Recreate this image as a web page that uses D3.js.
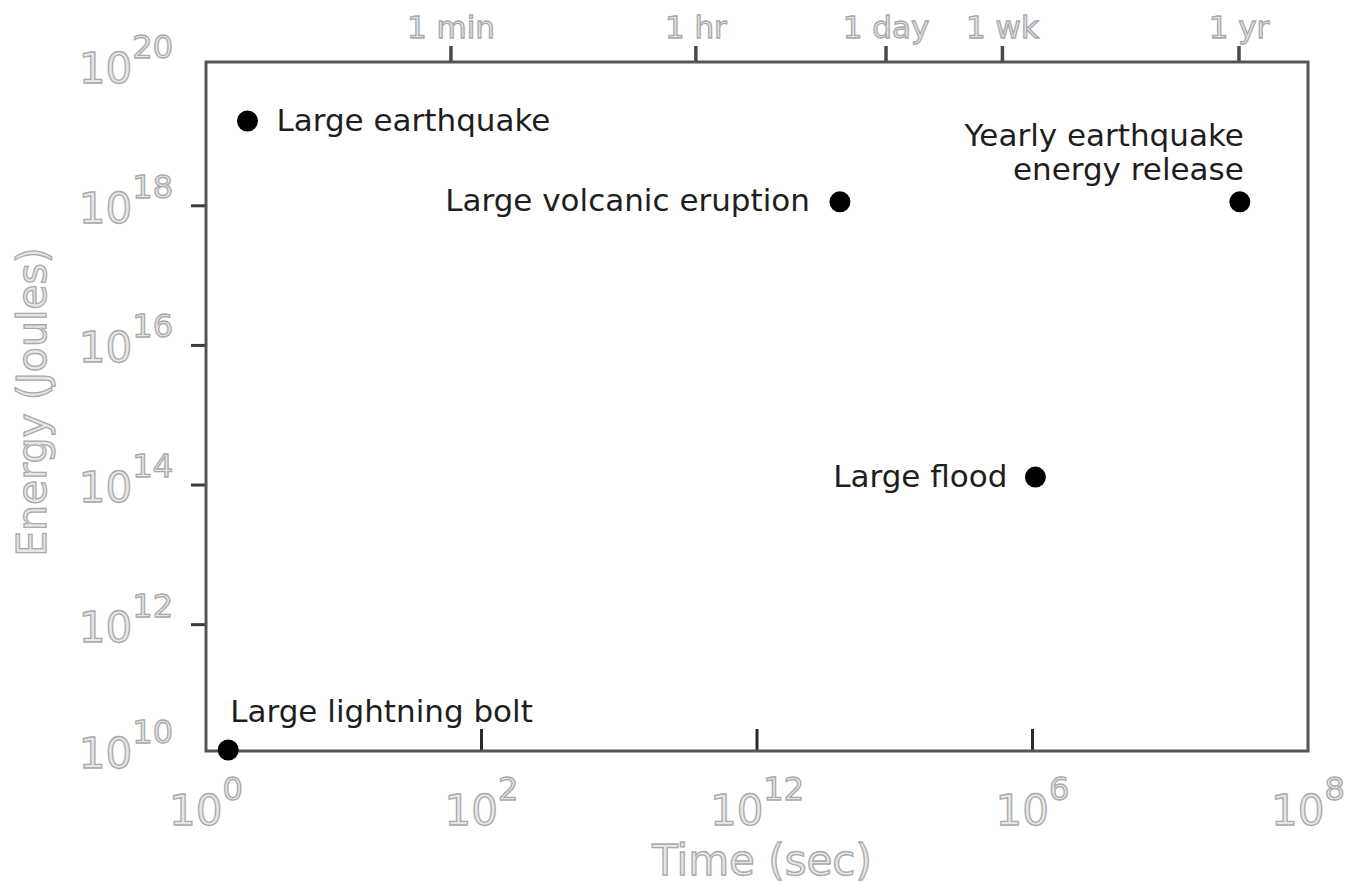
<!DOCTYPE html>
<html>
<head>
<meta charset="utf-8">
<script src="https://cdn.jsdelivr.net/npm/d3@7"></script>
<style>
  html, body { margin: 0; padding: 0; background: #fff; }
  svg { display: block; }
  .outline { fill: #e6e6e6; stroke: #a9a9a9; stroke-width: 1.3px; font-family: "DejaVu Sans", Verdana, sans-serif; }
  .note { fill: #1e1e1e; font-family: "DejaVu Sans", Verdana, sans-serif; font-size: 31px; }
</style>
</head>
<body>
<svg id="chart" width="1347" height="888"></svg>
<script>
// Natural events: how long they last and how much energy they release
const eventNames = ["Large earthquake", "Large volcanic eruption", "Yearly earthquake energy release", "Large flood", "Large lightning bolt"];
const durationsSec = [2, 4.0e4, 3.2e7, 1.05e6, 1.45];
const energiesJ = [1.64e19, 1.14e18, 1.14e18, 1.3e14, 1.6e10];

// Bottom axis (seconds) and left axis (joules) tick labels
const xTickValues = [1e0, 1e2, 1e4, 1e6, 1e8];
const xTickExponents = ["0", "2", "12", "6", "8"];
const yTickValues = [1e10, 1e12, 1e14, 1e16, 1e18, 1e20];
const yTickExponents = ["10", "12", "14", "16", "18", "20"];

// Reference durations marked along the top edge
const timeMarkLabels = ["1 min", "1 hr", "1 day", "1 wk", "1 yr"];
const timeMarkSec = [60, 3600, 86400, 604800, 31557600];

// Energy axis runs a little past its end decades
const yExtent = [Math.pow(10, 10.19), Math.pow(10, 20.06)];

// Label placement for each point
const noteLayout = [
  { anchor: "start", dx: 29, dy: 10 },
  { anchor: "end", dx: -30, dy: 9 },
  { anchor: "end", dx: 4, dy: -56, lines: ["Yearly earthquake", "energy release"], lineGap: 34 },
  { anchor: "end", dx: -28, dy: 10 },
  { anchor: "start", dx: 2, dy: -28 }
];

const svg = d3.select("#chart");
const box = { left: 206, right: 1308, top: 62, bottom: 751 };

const x = d3.scaleLog().domain([1e0, 1e8]).range([box.left, box.right]);
const y = d3.scaleLog().domain(yExtent).range([box.bottom, box.top]).clamp(true);

// Tick marks inside the frame
const innerX = xTickValues.slice(1, -1);
svg.append("g").selectAll("line").data(innerX).join("line")
  .attr("x1", d => x(d)).attr("x2", d => x(d))
  .attr("y1", box.bottom).attr("y2", box.bottom - 22)
  .attr("stroke", "#2a2a2a").attr("stroke-width", 3);

const innerY = yTickValues.slice(1, -1);
svg.append("g").selectAll("line").data(innerY).join("line")
  .attr("x1", box.left - 15).attr("x2", box.left)
  .attr("y1", d => y(d)).attr("y2", d => y(d))
  .attr("stroke", "#3a3a3a").attr("stroke-width", 3);

// Top reference durations
svg.append("g").selectAll("line").data(timeMarkSec).join("line")
  .attr("x1", d => x(d)).attr("x2", d => x(d))
  .attr("y1", box.top).attr("y2", box.top - 16)
  .attr("stroke", "#4a4a4a").attr("stroke-width", 3.5);

svg.append("g").selectAll("text").data(timeMarkSec).join("text")
  .attr("class", "outline")
  .attr("x", d => x(d)).attr("y", 38)
  .attr("text-anchor", "middle")
  .attr("font-size", 31)
  .text((d, i) => timeMarkLabels[i]);

// Frame
svg.append("rect")
  .attr("x", box.left).attr("y", box.top)
  .attr("width", box.right - box.left).attr("height", box.bottom - box.top)
  .attr("fill", "none").attr("stroke", "#555").attr("stroke-width", 3);

// Power-of-ten labels
const xLabels = svg.append("g").selectAll("text").data(xTickValues).join("text")
  .attr("class", "outline")
  .attr("x", d => x(d)).attr("y", 825)
  .attr("text-anchor", "middle")
  .attr("font-size", 42);
xLabels.append("tspan").text("10");
xLabels.append("tspan").attr("font-size", 32).attr("dy", -25).text((d, i) => xTickExponents[i]);

const yLabels = svg.append("g").selectAll("text").data(yTickValues).join("text")
  .attr("class", "outline")
  .attr("x", 173).attr("y", d => y(d) + 17)
  .attr("text-anchor", "end")
  .attr("font-size", 42);
yLabels.append("tspan").text("10");
yLabels.append("tspan").attr("font-size", 32).attr("dy", -25).text((d, i) => yTickExponents[i]);

// Axis titles
svg.append("text").attr("class", "outline")
  .attr("x", (box.left + box.right) / 2 + 5).attr("y", 875)
  .attr("text-anchor", "middle").attr("font-size", 42)
  .text("Time (sec)");

svg.append("text").attr("class", "outline")
  .attr("transform", "translate(46,402) rotate(-90)")
  .attr("text-anchor", "middle").attr("font-size", 41)
  .text("Energy (Joules)");

// Events
const points = eventNames.map((name, i) => ({ name, t: durationsSec[i], e: energiesJ[i], layout: noteLayout[i] }));

svg.append("g").selectAll("circle").data(points).join("circle")
  .attr("cx", d => x(d.t)).attr("cy", d => y(d.e))
  .attr("r", 10.5).attr("fill", "#000");

// One text element per label line
const noteLines = points.flatMap(d => {
  const lines = d.layout.lines || [d.name];
  const gap = d.layout.lineGap || 0;
  return lines.map((line, j) => ({ text: line, px: x(d.t) + d.layout.dx, py: y(d.e) + d.layout.dy + j * gap, anchor: d.layout.anchor }));
});

svg.append("g").selectAll("text").data(noteLines).join("text")
  .attr("class", "note")
  .attr("x", d => d.px)
  .attr("y", d => d.py)
  .attr("text-anchor", d => d.anchor)
  .text(d => d.text);
</script>
</body>
</html>
